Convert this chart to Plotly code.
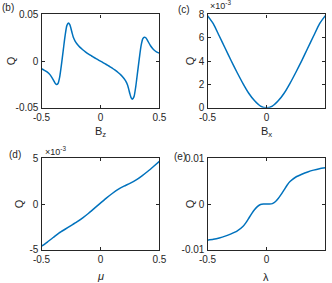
import plotly.graph_objects as go

# ---- data ----
bz = [-0.5, -0.475, -0.45, -0.425, -0.4, -0.385, -0.373, -0.36, -0.345, -0.33, -0.315, -0.3,
      -0.285, -0.271, -0.26, -0.25, -0.24, -0.23, -0.215, -0.2, -0.175, -0.15, -0.125, -0.1,
      -0.075, -0.05, -0.025, 0.0, 0.025, 0.05, 0.075, 0.1, 0.125, 0.15, 0.175, 0.2, 0.215,
      0.23, 0.24, 0.25, 0.26, 0.271, 0.285, 0.3, 0.315, 0.33, 0.345, 0.36, 0.373, 0.385, 0.4,
      0.425, 0.45, 0.475, 0.5]
q_bz = [-0.0082, -0.0098, -0.0118, -0.0150, -0.0200, -0.0235, -0.0250, -0.0240, -0.0165,
        -0.0030, 0.0120, 0.0270, 0.0380, 0.0407, 0.0390, 0.0350, 0.0300, 0.0255, 0.0215,
        0.0186, 0.0150, 0.0122, 0.0097, 0.0074, 0.0055, 0.0036, 0.0018, 0.0, -0.0018,
        -0.0036, -0.0055, -0.0074, -0.0097, -0.0122, -0.0150, -0.0186, -0.0215, -0.0255,
        -0.0300, -0.0350, -0.0390, -0.0407, -0.0380, -0.0270, -0.0120, 0.0030, 0.0165,
        0.0240, 0.0256, 0.0250, 0.0220, 0.0165, 0.0125, 0.0100, 0.0086]

bx = [-0.5, -0.45, -0.4, -0.35, -0.3, -0.25, -0.2, -0.15, -0.1, -0.05, 0.0,
      0.05, 0.1, 0.15, 0.2, 0.25, 0.3, 0.35, 0.4, 0.45, 0.5]
q_bx = [7.9e-3, 7.2e-3, 6.15e-3, 5.1e-3, 4.05e-3, 3.05e-3, 2.1e-3, 1.25e-3, 0.6e-3, 0.15e-3, 0.0,
        0.15e-3, 0.6e-3, 1.25e-3, 2.1e-3, 3.05e-3, 4.05e-3, 5.1e-3, 6.15e-3, 7.2e-3, 7.9e-3]

mu = [-0.5, -0.45, -0.4, -0.35, -0.3, -0.25, -0.2, -0.15, -0.1, -0.05, 0.0,
      0.05, 0.1, 0.15, 0.2, 0.25, 0.3, 0.35, 0.4, 0.45, 0.5]
q_mu = [-4.6e-3, -4.15e-3, -3.65e-3, -3.15e-3, -2.75e-3, -2.35e-3, -1.95e-3, -1.5e-3, -1.0e-3,
        -0.45e-3, 0.1e-3, 0.65e-3, 1.15e-3, 1.6e-3, 1.95e-3, 2.25e-3, 2.6e-3, 3.05e-3, 3.55e-3,
        4.1e-3, 4.65e-3]

lam = [-0.5, -0.45, -0.4, -0.35, -0.3, -0.25, -0.2, -0.175, -0.15, -0.125, -0.1, -0.075, -0.05,
       -0.025, 0.0, 0.025, 0.05, 0.075, 0.1, 0.125, 0.15, 0.175, 0.2, 0.25, 0.3, 0.35, 0.4,
       0.45, 0.5]
q_lam = [-0.0079, -0.0077, -0.0074, -0.0070, -0.0065, -0.0059, -0.0049, -0.0041, -0.0031,
         -0.0021, -0.0012, -0.0005, -0.0001, 0.0, 0.0, 0.0, 0.0001, 0.0005, 0.0012, 0.0021,
         0.0031, 0.0041, 0.0049, 0.0059, 0.0065, 0.0070, 0.0074, 0.0077, 0.0079]

x_ticks = [-0.5, 0, 0.5]
x_ticktext = ["-0.5", "0", "0.5"]

BLUE = "#0072BD"
AX = "#262626"
FONT = "Liberation Sans, Arial, sans-serif"

fig = go.Figure()
line = dict(color=BLUE, width=1.5, shape="spline", smoothing=0.6)
fig.add_trace(go.Scatter(x=bz, y=q_bz, mode="lines", line=line, xaxis="x", yaxis="y"))
fig.add_trace(go.Scatter(x=bx, y=[v * 1e3 for v in q_bx], mode="lines", line=line, xaxis="x2", yaxis="y2"))
fig.add_trace(go.Scatter(x=mu, y=[v * 1e3 for v in q_mu], mode="lines", line=line, xaxis="x3", yaxis="y3"))
fig.add_trace(go.Scatter(x=lam, y=q_lam, mode="lines", line=line, xaxis="x4", yaxis="y4"))

def xax(dom, anchor):
    return dict(domain=dom, anchor=anchor, range=[-0.5, 0.5], tickvals=x_ticks, ticktext=x_ticktext,
                ticks="inside", ticklen=3, tickcolor=AX, showline=True, linecolor=AX, linewidth=1.2,
                mirror="allticks", showgrid=False, zeroline=False, automargin=False,
                tickfont=dict(family=FONT, size=10, color=AX))

def yax(dom, anchor, rng, tv, tt):
    return dict(domain=dom, anchor=anchor, range=rng, tickvals=tv, ticktext=tt,
                ticks="inside", ticklen=3, tickcolor=AX, showline=True, linecolor=AX, linewidth=1.2,
                mirror="allticks", showgrid=False, zeroline=False, automargin=False,
                tickfont=dict(family=FONT, size=10, color=AX))

XL = [0.125, 0.48]
XR = [0.625, 0.98]
YT = [0.619, 0.949]
YB = [0.117, 0.441]

fig.update_layout(
    width=332, height=283, margin=dict(l=0, r=0, t=0, b=0, pad=0), autosize=False,
    paper_bgcolor="white", plot_bgcolor="white", showlegend=False,
    xaxis=xax(XL, "y"),
    yaxis=yax(YT, "x", [-0.05, 0.05], [-0.05, 0, 0.05], ["-0.05", "0", "0.05"]),
    xaxis2=xax(XR, "y2"),
    yaxis2=yax(YT, "x2", [0, 8], [0, 2, 4, 6, 8], ["0", "2", "4", "6", "8"]),
    xaxis3=xax(XL, "y3"),
    yaxis3=yax(YB, "x3", [-5, 5], [-5, 0, 5], ["-5", "0", "5"]),
    xaxis4=xax(XR, "y4"),
    yaxis4=yax(YB, "x4", [-0.01, 0.01], [-0.01, 0, 0.01], ["-0.01", "0", "0.01"]),
)

def px(x, y, text, size=11, xanchor="center", yanchor="middle", angle=0):
    fig.add_annotation(x=x / 332, y=1 - y / 283, xref="paper", yref="paper", text=text,
                       showarrow=False, xanchor=xanchor, yanchor=yanchor, textangle=angle,
                       font=dict(family=FONT, size=size, color=AX))

def vlabel(x, y, text, size=11):
    fig.add_shape(type="line", xref="paper", yref="paper",
                  x0=x / 332, x1=x / 332, y0=1 - (y + 5) / 283, y1=1 - (y - 5) / 283,
                  line=dict(width=0, color="rgba(0,0,0,0)"),
                  label=dict(text=text, textangle=-90, textposition="middle",
                             xanchor="center", yanchor="middle", padding=0,
                             font=dict(family=FONT, size=size, color=AX)))

# panel letters
px(0, 8, "(b)", 10, xanchor="left")
px(176, 9, "(c)", 10, xanchor="left")
px(7, 154, "(d)", 10, xanchor="left")
px(172, 156, "(e)", 10, xanchor="left")
# exponents
px(208, 5, "×10<sup>-3</sup>", 9, xanchor="left")
px(43, 151, "×10<sup>-3</sup>", 9, xanchor="left")
# y labels
vlabel(10, 61, "Q", 11)
vlabel(189, 61, "Q", 11)
vlabel(18, 204, "Q", 11)
vlabel(189, 204, "Q", 11)
# x labels
px(100, 132, "B<sub>z</sub>", 11)
px(266, 132, "B<sub>x</sub>", 11)
px(100, 276, "<i>μ</i>", 11)
px(266, 277, "λ", 11)

fig.write_html("out.html", config={"displayModeBar": False},
               post_script="document.body.style.margin='0';document.body.style.overflow='hidden';")
